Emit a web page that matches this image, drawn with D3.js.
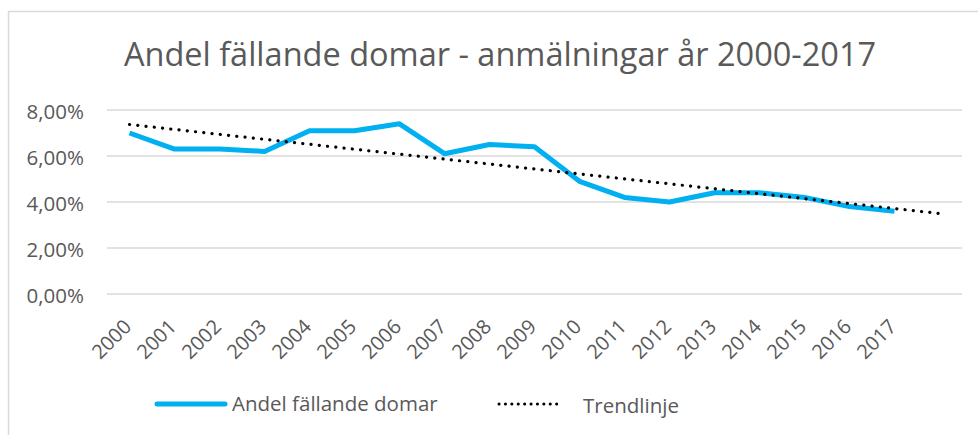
<!DOCTYPE html>
<html>
<head>
<meta charset="utf-8">
<script src="https://cdn.jsdelivr.net/npm/d3@7"></script>
<style>
  body { margin: 0; background: #fff; }
  text { font-family: "Open Sans", sans-serif; fill: #595959; }
</style>
</head>
<body>
<div id="chart"></div>
<script>
// data
const years = ["2000","2001","2002","2003","2004","2005","2006","2007","2008",
               "2009","2010","2011","2012","2013","2014","2015","2016","2017"];
const share = [7.0, 6.3, 6.3, 6.2, 7.1, 7.1, 7.4, 6.1, 6.5,
               6.4, 4.9, 4.2, 4.0, 4.4, 4.4, 4.2, 3.8, 3.6];
// trendline endpoints (forecast one period forward)
const trendYears = ["2000", "2018"];
const trendValues = [7.37, 3.50];
const yTicks = [0, 2, 4, 6, 8];

const W = 978, H = 435;
const margin = { top: 110, right: 16, bottom: 141, left: 107 };
const width = W - margin.left - margin.right,
      height = H - margin.top - margin.bottom;

const svg = d3.select("#chart").append("svg")
  .attr("width", W).attr("height", H);

// chart frame
svg.append("rect")
  .attr("x", 8.5).attr("y", 11.5)
  .attr("width", W + 10).attr("height", H + 10)
  .attr("fill", "none").attr("stroke", "#d9d9d9").attr("stroke-width", 1.5);

svg.append("text")
  .attr("x", 500).attr("y", 66)
  .attr("text-anchor", "middle")
  .style("font-size", "32.5px")
  .text("Andel fällande domar - anmälningar år 2000-2017");

const g = svg.append("g")
  .attr("transform", `translate(${margin.left},${margin.top})`);

const x = d3.scaleBand()
  .domain(years.concat(["2018"]))
  .range([0, width]);

const y = d3.scaleLinear()
  .domain([0, 8])
  .range([height, 0]);

const cx = d => x(d) + x.bandwidth() / 2;

// gridlines
g.append("g")
  .selectAll("line")
  .data(yTicks)
  .join("line")
  .attr("x1", 0).attr("x2", width)
  .attr("y1", d => y(d)).attr("y2", d => y(d))
  .attr("stroke", "#d9d9d9").attr("stroke-width", 1.5);

// y axis labels
const yAxis = g.append("g")
  .call(d3.axisLeft(y).tickValues(yTicks).tickSize(0).tickPadding(23)
    .tickFormat(d => d3.format(".2f")(d).replace(".", ",") + "%"));
yAxis.select(".domain").remove();
yAxis.selectAll("text").style("font-size", "20.5px").attr("fill", "#595959")
  .attr("dy", "0.4em");

// x axis labels, rotated
g.append("g")
  .selectAll("text")
  .data(years)
  .join("text")
  .attr("text-anchor", "end")
  .style("font-size", "20px")
  .attr("transform", d => `translate(${cx(d) + 3},${height + 34}) rotate(-45)`)
  .text(d => d);

// series
const line = d3.line()
  .x((d, i) => cx(years[i]))
  .y(d => y(d));

g.append("path")
  .datum(share)
  .attr("d", line)
  .attr("fill", "none")
  .attr("stroke", "#00b0f0")
  .attr("stroke-width", 5)
  .attr("stroke-linejoin", "round");

// trendline
g.append("path")
  .datum(trendValues)
  .attr("d", d3.line().x((d, i) => cx(trendYears[i])).y(d => y(d)))
  .attr("fill", "none")
  .attr("stroke", "#000")
  .attr("stroke-width", 3.2)
  .attr("stroke-linecap", "round")
  .attr("stroke-dasharray", "0.1 8.2");

// legend
const lg = svg.append("g").attr("transform", "translate(0,404)");
lg.append("line")
  .attr("x1", 157).attr("x2", 225)
  .attr("stroke", "#00b0f0").attr("stroke-width", 5).attr("stroke-linecap", "round");
lg.append("text").attr("x", 232).attr("y", 7)
  .style("font-size", "20.5px").text("Andel fällande domar");
lg.append("line")
  .attr("x1", 499).attr("x2", 562)
  .attr("stroke", "#000").attr("stroke-width", 3)
  .attr("stroke-linecap", "round").attr("stroke-dasharray", "0.1 6.3");
lg.append("text").attr("x", 583).attr("y", 9)
  .style("font-size", "20.5px").text("Trendlinje");
</script>
</body>
</html>
